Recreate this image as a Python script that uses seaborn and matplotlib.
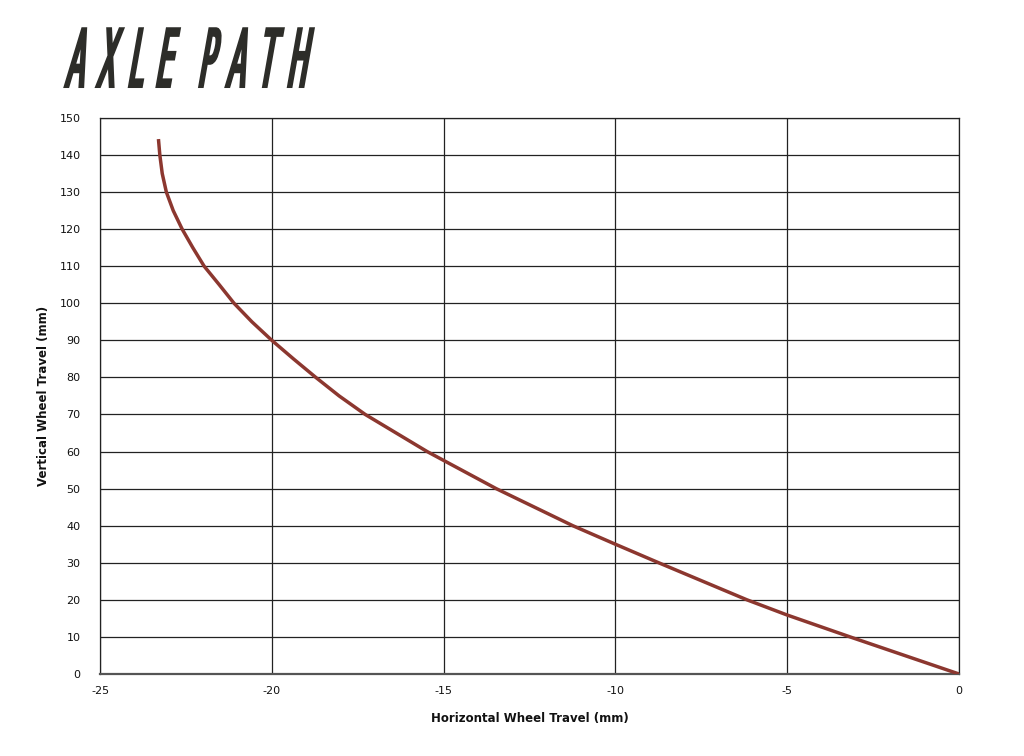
import matplotlib
matplotlib.use("Agg")
import matplotlib.pyplot as plt
from matplotlib.patheffects import AbstractPathEffect
from matplotlib.transforms import Affine2D
import seaborn as sns
import pandas as pd

# Data
horizontal_mm = [-23.30, -23.26, -23.19, -23.07, -22.87, -22.61, -22.30, -21.97,
                 -21.53, -21.10, -20.58, -20.00, -19.37, -18.72, -18.04, -17.28,
                 -15.48, -13.47, -11.24, -10.00, -8.74, -6.17, -5.00, -3.17, 0.00]
vertical_mm = [144.3, 140, 135, 130, 125, 120, 115, 110,
               105, 100, 95, 90, 85, 80, 75, 70,
               60, 50, 40, 35, 30, 20, 15.9, 10, 0]
x_ticks = [-25, -20, -15, -10, -5, 0]
y_ticks = list(range(0, 151, 10))

EN = "\u2002"
title_text = EN.join("AXLE") + EN * 2 + EN.join("PATH")
x_label = "Horizontal Wheel Travel (mm)"
y_label = "Vertical Wheel Travel (mm)"

df = pd.DataFrame({"h": horizontal_mm, "v": vertical_mm})


class Condense(AbstractPathEffect):
    """Draw text narrower and slanted (like a condensed italic display face)."""

    def __init__(self, sx=0.33, skew=10, lw=2.2):
        super().__init__()
        self.sx = sx
        self.skew = skew
        self.lw = lw

    def draw_path(self, renderer, gc, tpath, affine, rgbFace):
        aff = Affine2D().scale(self.sx, 1).skew_deg(self.skew, 0) + affine
        gc0 = renderer.new_gc()
        gc0.copy_properties(gc)
        gc0.set_linewidth(self.lw)
        gc0.set_foreground(rgbFace)
        gc0.set_joinstyle("miter")
        renderer.draw_path(gc0, tpath, aff, rgbFace)
        gc0.restore()


sns.set_style("white")
plt.rcParams["font.family"] = ["DejaVu Sans"]

fig = plt.figure(figsize=(10.24, 7.56), dpi=100)
ax = fig.add_axes([0.0977, 0.1085, 0.9365 - 0.0977, 0.844 - 0.1085])

sns.lineplot(data=df, x="h", y="v", sort=False, ax=ax, color="#8c372f",
             linewidth=2.5, solid_capstyle="butt", solid_joinstyle="round",
             zorder=3)

ax.set_xlim(-25, 0)
ax.set_ylim(0, 150)
ax.set_xticks(x_ticks)
ax.set_yticks(y_ticks)
ax.set_xticklabels([str(t) for t in x_ticks])
ax.set_yticklabels([str(t) for t in y_ticks])
ax.grid(True, color="#222222", linewidth=0.9)
for s in ax.spines.values():
    s.set_visible(True)
    s.set_color("#222222")
    s.set_linewidth(0.9)
ax.spines["bottom"].set_linewidth(1.6)
ax.spines["bottom"].set_color("#555555")
ax.tick_params(axis="both", length=0, labelsize=8, colors="#111111")
ax.tick_params(axis="y", pad=14)
ax.tick_params(axis="x", pad=9)

ax.set_xlabel(x_label, fontsize=8.5, fontweight="bold", labelpad=11,
              color="#111111")
ax.set_ylabel(y_label, fontsize=8.5, fontweight="bold", labelpad=7,
              color="#111111")

fig.text(0.0635, 0.8856, title_text, fontsize=57, fontweight="normal",
         color="#2d2d29", ha="left", va="baseline",
         path_effects=[Condense(sx=0.33, skew=10, lw=2.2)])

fig.savefig("out.png", dpi=100, facecolor="white")
